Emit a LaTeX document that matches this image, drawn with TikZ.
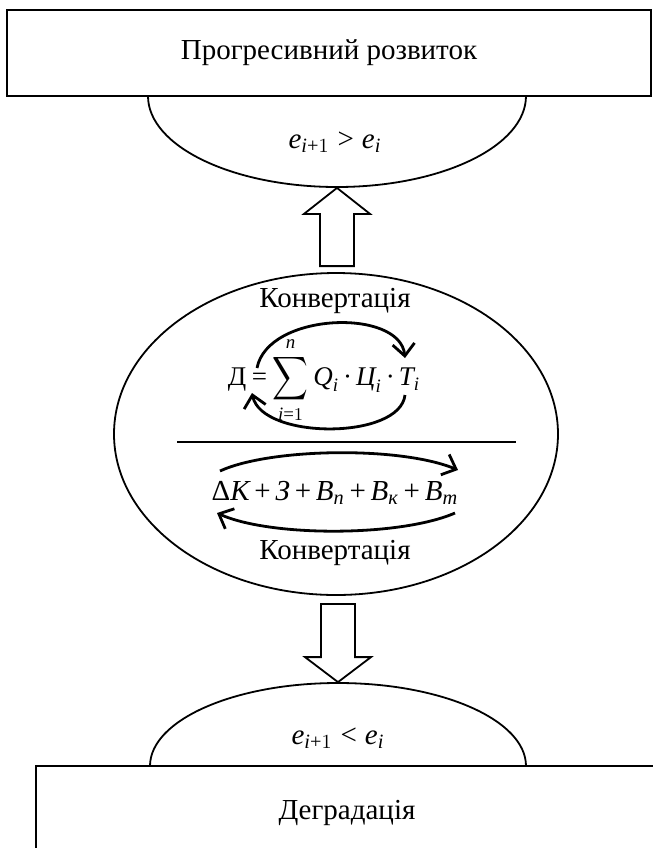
\documentclass[tikz,border=0pt]{standalone}
\usepackage{amsmath}
\usepackage{fontspec}
\setmainfont{Liberation Serif}
\usetikzlibrary{shapes.geometric,arrows.meta,calc}
\newcommand{\vi}[1]{\textit{#1}}
\newcommand{\pl}{\mathbin{\text{+}}}
\newcommand{\md}{\mathbin{\text{·}}}
\newcommand{\bigsum}{\mathop{\vcenter{\hbox{\scalebox{0.86}[1.05]{$\displaystyle\sum$}}}}\limits}

\begin{document}
\begin{tikzpicture}[x=0.5pt, y=-0.5pt,
    every node/.style={font=\fontsize{14.5}{17}\selectfont},
    halfell/.style={draw, ellipse, line width=0.9pt, inner sep=0pt},
    stagebox/.style={draw, fill=white, line width=1.1pt, inner sep=0pt},
    loopline/.style={-{Straight Barb[length=6pt,width=11pt]}, line width=1.4pt},
    blockarrow/.style={draw, line width=0.9pt, line join=miter}]
        \useasboundingbox (0,0) rectangle (653,848);
        \clip (0,0) rectangle (653,848);

        % Progressive development (top)
        \begin{scope}
            \clip (0,96) rectangle (653,300);
            \node[halfell, minimum width=189pt, minimum height=91pt] (uphalf) at (337,96) {};
        \end{scope}
        \node[stagebox, minimum width=322pt, minimum height=43pt] (progress) at (329,53)
            {Прогресивний розвиток};
        \node (upcond) at (335,142) {$\vi{e}_{\vi{i}\text{+}1} \mathrel{\text{>}} \vi{e}_{\vi{i}}$};

        % Conversion (center)
        \node[draw, ellipse, line width=0.9pt, minimum width=222pt, minimum height=161pt, inner sep=0pt] (conv) at (336,434) {};
        \node[inner sep=1pt] (convtop) at (335,301) {Конвертація};
        \node[inner sep=0pt, font=\fontsize{13.5}{16}\selectfont] (income) at (324,380)
            {$\medmuskip=2.5mu \thickmuskip=3.5mu
              \text{Д} \mathrel{\text{=}} \bigsum_{\vi{i}\text{=}1}^{\vi{n}} \vi{Q}_{\vi{i}} \md \vi{Ц}_{\vi{i}} \md \vi{T}_{\vi{i}}$};
        \node[inner sep=0pt] (costs) at (335,493)
            {$\medmuskip=3mu
              \text{Δ}\vi{К} \pl \vi{З} \pl \vi{В}_{\vi{n}} \pl \vi{В}_{\vi{к}} \pl \vi{В}_{\vi{m}}$};
        \node (convbot) at (335,553) {Конвертація};
        \draw[line width=1pt] (177,442) -- (516,442);

        % Degradation (bottom)
        \node[halfell, minimum width=188pt, minimum height=83pt] (lowhalf) at (338,766) {};
        \node[stagebox, minimum width=311pt, minimum height=47pt] (degrad) at (347,813)
            {Деградація};
        \node (lowcond) at (338,738) {$\vi{e}_{\vi{i}\text{+}1} \mathrel{\text{<}} \vi{e}_{\vi{i}}$};

        % loops round the formulas
        \coordinate (incA) at (257,368);
        \coordinate (incB) at (405,358);
        \coordinate (incC) at (405,395);
        \coordinate (incD) at (252,393);
        \draw[loopline] (incA) .. controls (268,312) and (400,308) .. (incB);
        \draw[loopline] (incC) .. controls (400,440) and (262,440) .. (incD);
        \coordinate (costA) at (220,471);
        \coordinate (costB) at (458,470);
        \coordinate (costC) at (455,513);
        \coordinate (costD) at (217,513);
        \draw[loopline] (costA) .. controls (270,448) and (400,446) .. (costB);
        \draw[loopline] (costC) .. controls (400,537) and (270,537) .. (costD);

        % block arrows
        \draw[blockarrow] let \p1=(uphalf.south), \p2=($(conv.north)+(0,-6)$) in
            (\p1) -- (\x1-16.5pt,\y1-13pt) -- (\x1-8.5pt,\y1-13pt) -- (\x1-8.5pt,\y2)
            -- (\x1+8.5pt,\y2) -- (\x1+8.5pt,\y1-13pt) -- (\x1+16.5pt,\y1-13pt) -- cycle;
        \draw[blockarrow] let \p1=(lowhalf.north), \p2=($(conv.south)+(0,8)$) in
            (\p1) -- (\x1-16.5pt,\y1+12.5pt) -- (\x1-8.5pt,\y1+12.5pt) -- (\x1-8.5pt,\y2)
            -- (\x1+8.5pt,\y2) -- (\x1+8.5pt,\y1+12.5pt) -- (\x1+16.5pt,\y1+12.5pt) -- cycle;
    \end{tikzpicture}
\end{document}
